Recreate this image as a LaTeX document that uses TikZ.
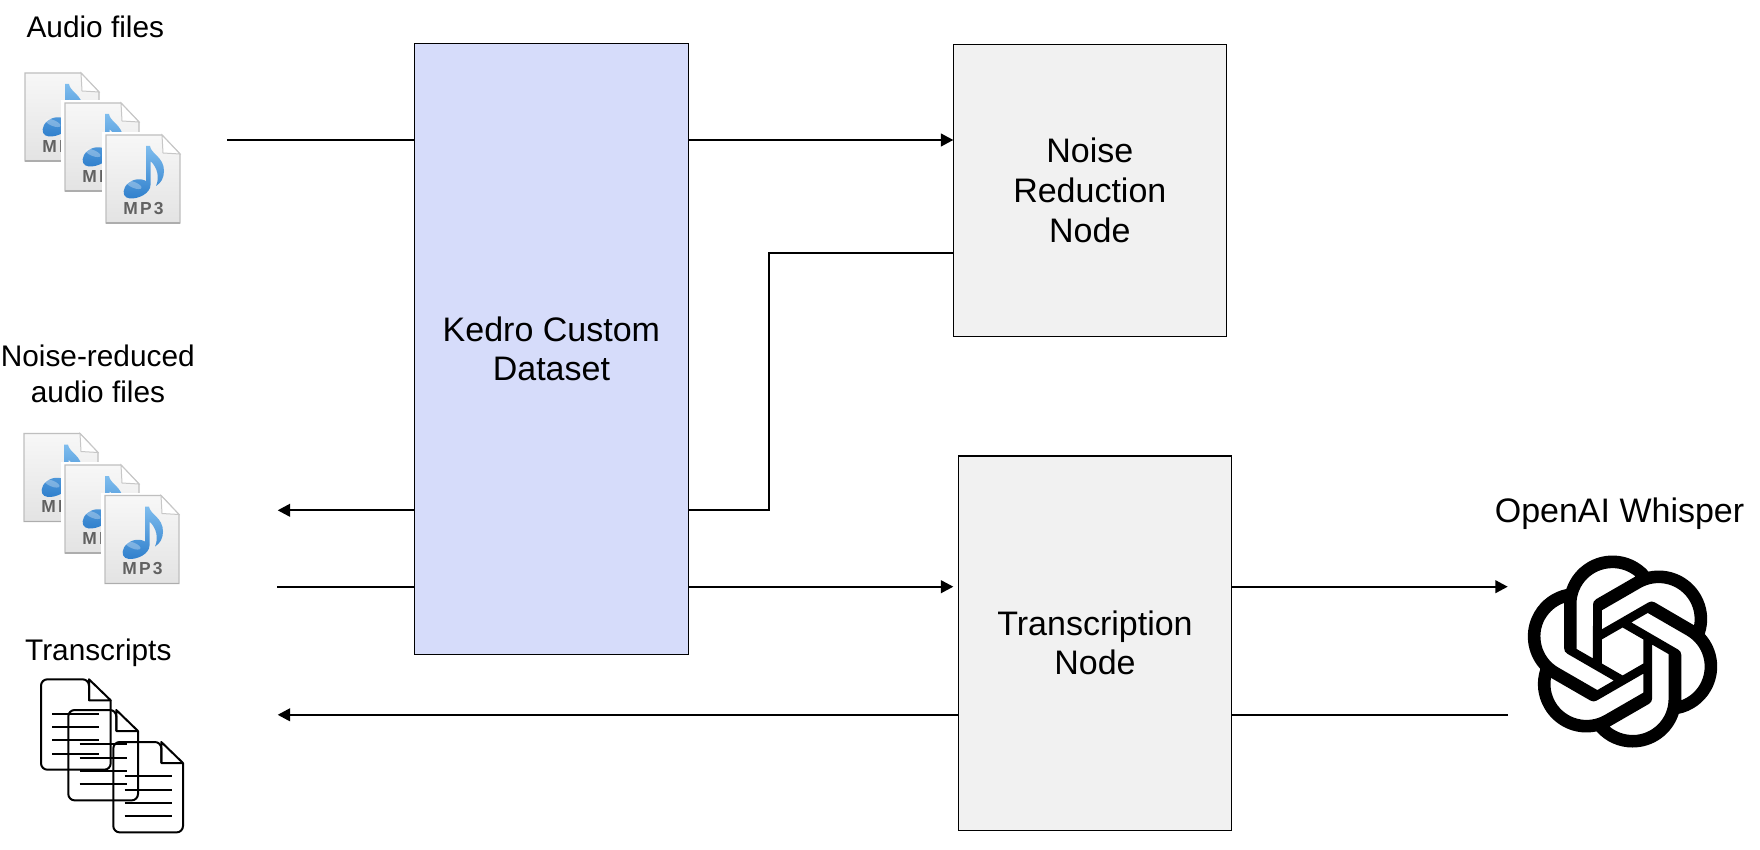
\documentclass[tikz,border=0pt]{standalone}
\usepackage{fontspec}
\setmainfont{Liberation Sans}
\newfontfamily\mpfont[LetterSpace=13]{Liberation Sans}
\usetikzlibrary{arrows.meta,svg.path,calc}
\definecolor{kedroblue}{HTML}{D6DCFA}
\definecolor{nodegrey}{HTML}{F1F1F1}
\definecolor{notetop}{HTML}{7FBDEE}
\definecolor{notebot}{HTML}{2F7FCC}
\tikzset{
  boxnode/.style={draw=black,line width=.6pt,inner sep=0pt,outer sep=0pt,align=center,font=\fontsize{17}{19.6}\selectfont},
  conn/.style={draw=black,line width=.85pt},
  tipped/.style={-{Triangle[length=6.2pt,width=6.4pt]}},
  lab/.style={inner sep=0pt,anchor=base,font=\fontsize{14.9}{18}\selectfont},
  docline/.style={draw=black,line width=1pt,line cap=butt,line join=round},
  pagedraw/.style={draw=black!25,line width=.6pt,top color=white!97!black,bottom color=white!89!black},
}
\newcommand{\mpicon}[3]{%
  \begin{scope}[shift={(#1,#2)}]
    \fill[white] (-4,-3) rectangle (80,91);
    \path[pagedraw] (0,0) -- (56,0) -- (74,19) -- (74,88) -- (0,88) -- cycle;
    \draw[black!32,line width=.7pt] (0,88) -- (74,88);
    \path[fill=white,draw=black!22,line width=.5pt] (56,0) -- (57,18) -- (74,19) -- cycle;
    % note
    \path[top color=notetop,bottom color=notebot,draw=none]
      (40,11) -- (44,11) .. controls (45,19) and (58,22) .. (58,36)
      .. controls (58,43) and (55,48) .. (50,51)
      .. controls (54,42) and (51,32) .. (44.5,26)
      -- (44.5,50) .. controls (44.5,58) and (33,64) .. (24,63.5)
      .. controls (18,63) and (16,58) .. (19,52)
      .. controls (23,45) and (33,42) .. (40,46) -- cycle;
    \fill[white,opacity=.3,rotate around={-22:(28,50)}] (28,50) ellipse (8 and 3);
    \node[inner sep=0pt,anchor=base,text=black!62,font=\mpfont\bfseries\fontsize{8.7}{10}\selectfont] (#3) at (37.5,79.3) {MP3};
  \end{scope}}
\newcommand{\docicon}[2]{%
  \begin{scope}[shift={(#1,#2)}]
    \draw[docline,rounded corners=3.2pt] (48,21) -- (48,0) -- (0,0) -- (0,90.4) -- (69.7,90.4) -- (69.7,21);
    \draw[docline] (48,0) -- (48,21) -- (69.7,21) -- cycle;
    \foreach \yy in {34.4,47.7,61,74.4} \draw[docline] (11.3,\yy) -- (58.3,\yy);
  \end{scope}}
\begin{document}
\begin{tikzpicture}[x=.5pt,y=-.5pt]
\useasboundingbox (0,0) rectangle (1760,850);
\fill[white] (0,0) rectangle (1760,850);

% boxes
\node[boxnode,fill=kedroblue,minimum width=136.9pt,minimum height=305.5pt] (kedro) at (551.4,348.8) {Kedro Custom\\Dataset};
\node[boxnode,fill=nodegrey,minimum width=136.5pt,minimum height=146pt] (noise) at (1089.8,190.3) {Noise\\[.4pt]Reduction\\[.4pt]Node};
\node[boxnode,fill=nodegrey,minimum width=136.7pt,minimum height=187.2pt] (trans) at (1095,643.2) {Transcription\\Node};

% free ends
\coordinate (audioout) at (227,140);
\coordinate (noisyret) at (277.7,510.3);
\coordinate (reducedout) at (277,586.7);
\coordinate (transret) at (277.7,714.8);
\coordinate (whisperin) at (1507.7,586.7);
\coordinate (whisperout) at (1508,714.8);
\coordinate (backy) at (769.3,253);

% connectors
\draw[conn] (audioout) -- (kedro.west |- audioout);
\draw[conn,tipped] (kedro.east |- audioout) -- (noise.west |- audioout);
\draw[conn] (noise.west |- backy) -- (backy) -- (backy |- noisyret) -- (kedro.east |- noisyret);
\draw[conn,tipped] (kedro.west |- noisyret) -- (noisyret);
\draw[conn] (reducedout) -- (kedro.west |- reducedout);
\draw[conn,tipped] (kedro.east |- reducedout) -- (noise.west |- reducedout);
\draw[conn,tipped] (trans.east |- whisperin) -- (whisperin);
\draw[conn] (whisperout) -- (trans.east |- whisperout);
\draw[conn,tipped] (trans.west |- transret) -- (transret);

% labels
\node[lab] (labaudio) at (95.3,37.7) {Audio files};
\node[lab] (labred) at (97.8,366.7) {Noise-reduced};
\node[lab] (labredb) at (98,402.7) {audio files};
\node[lab] (labtrans) at (98.3,660.7) {Transcripts};
\node[lab,font=\fontsize{17}{20}\selectfont] (labwhisper) at (1619.5,522) {OpenAI Whisper};

% audio icons
\mpicon{25}{73}{mpa}\mpicon{65}{103}{mpb}\mpicon{106}{135}{mpc}
\mpicon{24}{433.5}{mpd}\mpicon{65}{465}{mpe}\mpicon{105}{495.5}{mpf}

% transcript icons
\docicon{41}{679.3}\docicon{68.3}{710}\docicon{113.3}{742}

% OpenAI logo
\begin{scope}[shift={(1526.5,555.5)},scale=4,yscale=-1]
\fill[black,x=1pt,y=1pt] svg {M22.2819 9.8211a5.9847 5.9847 0 0 0 -.5157 -4.9108 6.0462 6.0462 0 0 0 -6.5098 -2.9A6.0651 6.0651 0 0 0 4.9807 4.1818a5.9847 5.9847 0 0 0 -3.9977 2.9 6.0462 6.0462 0 0 0 .7427 7.0966 5.98 5.98 0 0 0 .511 4.9107 6.051 6.051 0 0 0 6.5146 2.9001A5.9847 5.9847 0 0 0 13.2599 24a6.0557 6.0557 0 0 0 5.7718 -4.2058 5.9894 5.9894 0 0 0 3.9977 -2.9001 6.0557 6.0557 0 0 0 -.7475 -7.0729z
M13.2599 22.4292a4.4755 4.4755 0 0 1 -2.8764 -1.0408l.1419 -.0804 4.7783 -2.7582q.3927 -.2267 .3927 -.6813v-6.7369l2.02 1.1686l.038 .052v5.5826a4.504 4.504 0 0 1 -4.4945 4.4944z
M3.5992 18.3038a4.4708 4.4708 0 0 1 -.5346 -3.0137l.142 .0852 4.783 2.7582q.3903 .2253 .7806 0l5.8428 -3.3685v2.3324l-.0332 .0615L9.74 19.9502a4.4992 4.4992 0 0 1 -6.1408 -1.6464z
M2.3408 7.8956a4.485 4.485 0 0 1 2.3655 -1.9728V11.6q0 .4527 .3879 .6765l5.8144 3.3543 -2.0201 1.1685l-.071 0l-4.8303 -2.7865A4.504 4.504 0 0 1 2.3408 7.872z
M18.9371 11.7514L13.1038 8.364 15.1192 7.2l.071 0l4.8303 2.7913a4.4944 4.4944 0 0 1 -.6765 8.1042v-5.6772q0 -.432 -.407 -.667z
M20.9478 8.7283l-.142 -.0852 -4.7735 -2.7818q-.3927 -.2267 -.7854 0L9.409 9.2297V6.8974l.0284 -.0615l4.8303 -2.7866a4.4992 4.4992 0 0 1 6.6802 4.66z
M8.3065 12.863l-2.02 -1.1638l-.038 -.0567V6.0742a4.4992 4.4992 0 0 1 7.3757 -3.4537l-.142 .0805L8.704 5.459q-.3927 .2267 -.3927 .6813z
M9.4041 10.4976l2.602 -1.4998 2.6069 1.4998v2.9994l-2.5974 1.4997 -2.6067 -1.4997Z};
\end{scope}
\end{tikzpicture}
\end{document}
